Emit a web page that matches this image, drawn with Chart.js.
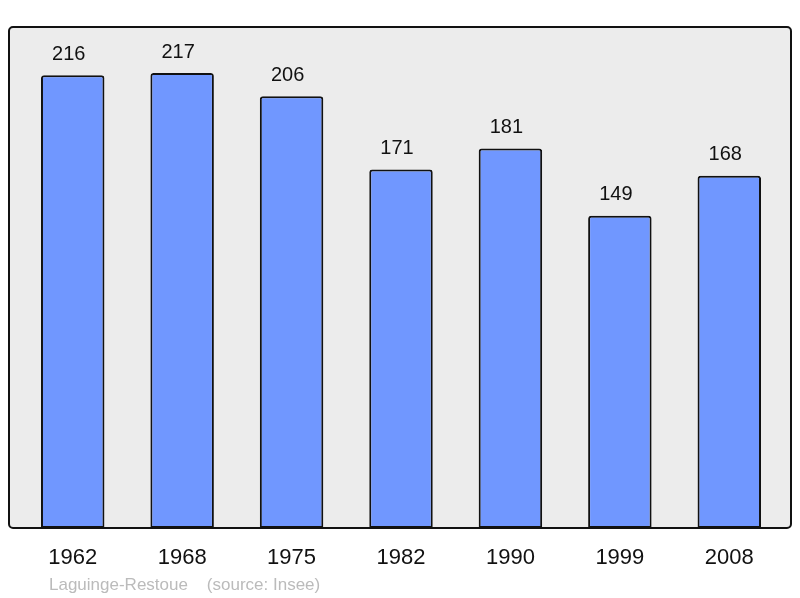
<!DOCTYPE html>
<html><head><meta charset="utf-8">
<script src="https://cdn.jsdelivr.net/npm/chart.js@4"></script>
<style>html,body{margin:0;padding:0;background:#fff}#w{width:800px;height:598px}</style>
</head><body><div id="w"><canvas id="c"></canvas></div>
<script>
const years = ["1962","1968","1975","1982","1990","1999","2008"];
const population = [216,217,206,171,181,149,168];
const footerText = "Laguinge-Restoue    (source: Insee)";

const frame = {
  id:'frame',
  beforeDraw(chart){
    const c = chart.ctx;
    c.save();
    c.beginPath();
    c.roundRect(9,27,782,501,4);
    c.fillStyle='#ececec';
    c.fill();
    c.restore();
  },
  afterDatasetsDraw(chart){
    const c = chart.ctx;
    c.save();
    c.beginPath();
    c.roundRect(9,27,782,501,4);
    c.lineWidth=2;
    c.strokeStyle='#111';
    c.stroke();
    const meta = chart.getDatasetMeta(0);
    c.font='20px "Liberation Sans", Arial, sans-serif';
    c.fillStyle='#111';
    c.textAlign='center';
    c.textBaseline='middle';
    meta.data.forEach((b,i)=>{
      c.fillText(String(population[i]), b.x-4, b.y-21);
    });
    c.font='17px "Liberation Sans", Arial, sans-serif';
    c.fillStyle='#bbbbbb';
    c.textAlign='left';
    c.fillText(footerText, 49, 585);
    c.restore();
  }
};

new Chart(document.getElementById('c'),{
  type:'bar',
  data:{labels:years,datasets:[{data:population,backgroundColor:'#7097ff',borderColor:'#111',borderWidth:2,borderRadius:{topLeft:3,topRight:3,bottomLeft:0,bottomRight:0},borderSkipped:false,categoryPercentage:1,barPercentage:0.58}]},
  options:{
    responsive:true,maintainAspectRatio:false,animation:false,
    layout:{padding:{left:18,right:16,top:27,bottom:0}},
    plugins:{legend:{display:false},tooltip:{enabled:false}},
    scales:{
      y:{display:false,min:0,max:239},
      x:{grid:{display:false,drawTicks:false},border:{display:false},
         ticks:{color:'#111',font:{size:22,family:'"Liberation Sans", Arial, sans-serif'},padding:17,maxRotation:0},
         afterFit(s){s.height=70;}}
    }
  },
  plugins:[frame]
});
</script></body></html>
